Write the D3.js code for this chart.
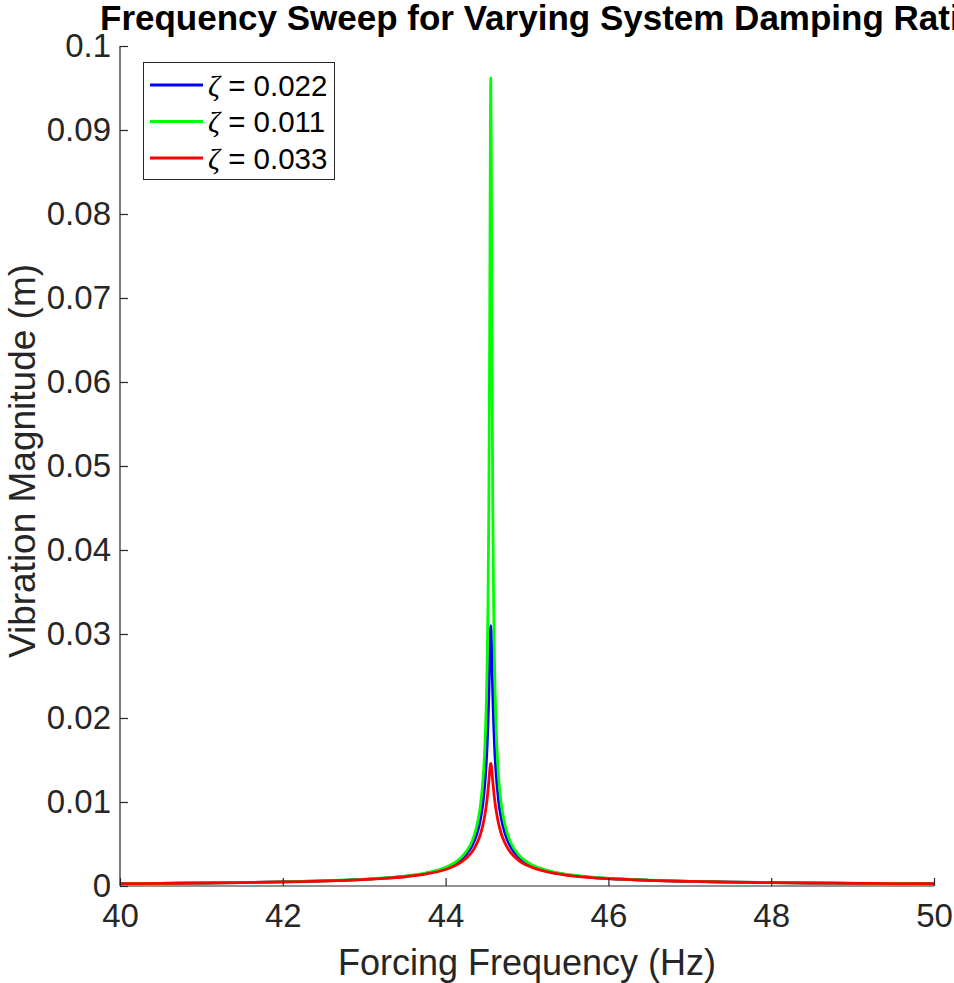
<!DOCTYPE html>
<html>
<head>
<meta charset="utf-8">
<script src="https://cdn.jsdelivr.net/npm/d3@7"></script>
<style>
  body { margin: 0; background: #ffffff; }
  text { font-family: "Liberation Sans", Arial, Helvetica, sans-serif; }
</style>
</head>
<body>
<svg id="chart" width="954" height="983"></svg>
<script>
// Forcing frequency samples (Hz), shared by all three sweeps
const freqHz = [
  40, 40.5, 41, 41.5, 42, 42.5, 43, 43.25, 43.5, 43.75,
  44, 44.1, 44.2, 44.3, 44.35, 44.4, 44.43, 44.46, 44.48, 44.5,
  44.51, 44.52, 44.53, 44.54, 44.545, 44.55, 44.555, 44.56, 44.565, 44.57,
  44.58, 44.59, 44.6, 44.62, 44.65, 44.68, 44.7, 44.75, 44.8, 44.9,
  45, 45.25, 45.5, 45.75, 46, 46.5, 47, 47.5, 48, 48.5,
  49, 49.5, 50
];

// Vibration magnitude (m), zeta = 0.022
const magZeta022 = [
  0.000281, 0.000315, 0.000356, 0.000411, 0.000489, 0.000602, 0.000788, 0.000934, 0.001146, 0.001486,
  0.002117, 0.002559, 0.003226, 0.004361, 0.005297, 0.006725, 0.008039, 0.01000, 0.01191, 0.01472,
  0.01665, 0.01914, 0.02237, 0.02638, 0.02850, 0.03028, 0.03100, 0.03031, 0.02861, 0.02657,
  0.02260, 0.01942, 0.01694, 0.01342, 0.01021, 0.008236, 0.007299, 0.005685, 0.004647, 0.003407,
  0.002698, 0.001778, 0.001332, 0.001069, 0.000894, 0.000679, 0.000550, 0.000464, 0.000404, 0.000358,
  0.000324, 0.000295, 0.000272
];

// Vibration magnitude (m), zeta = 0.011
const magZeta011 = [
  0.000283, 0.000317, 0.000359, 0.000415, 0.000494, 0.000610, 0.000802, 0.000953, 0.001175, 0.001536,
  0.00222, 0.00271, 0.00347, 0.00482, 0.00599, 0.00788, 0.00975, 0.01279, 0.01609, 0.02169,
  0.02616, 0.03288, 0.04371, 0.0622, 0.0754, 0.0893, 0.0962, 0.0896, 0.0762, 0.0633,
  0.0446, 0.0337, 0.02688, 0.01899, 0.01314, 0.01004, 0.00868, 0.00649, 0.00517, 0.00368,
  0.002866, 0.00185, 0.001372, 0.001094, 0.000912, 0.000689, 0.000557, 0.000469, 0.000408, 0.000361,
  0.000326, 0.000297, 0.000274
];

// Vibration magnitude (m), zeta = 0.033
const magZeta033 = [
  0.000278, 0.000311, 0.000352, 0.000405, 0.000480, 0.000589, 0.000766, 0.000903, 0.001100, 0.001410,
  0.001966, 0.002341, 0.002888, 0.003765, 0.004444, 0.005405, 0.006223, 0.007339, 0.008318, 0.00960,
  0.01038, 0.01130, 0.01235, 0.01349, 0.01402, 0.01444, 0.01460, 0.01444, 0.01405, 0.01354,
  0.01242, 0.01140, 0.01050, 0.00903, 0.007453, 0.006342, 0.005771, 0.004713, 0.003976, 0.003032,
  0.002457, 0.001671, 0.001271, 0.001029, 0.000866, 0.000662, 0.000540, 0.000457, 0.000399, 0.000354,
  0.000320, 0.000292, 0.000270
];

const seriesNames = ["0.022", "0.011", "0.033"];
const seriesColors = ["#0000ff", "#00ff00", "#ff0000"];
const seriesValues = [magZeta022, magZeta011, magZeta033];

const xTickValues = [40, 42, 44, 46, 48, 50];
const yTickValues = [0, 0.01, 0.02, 0.03, 0.04, 0.05, 0.06, 0.07, 0.08, 0.09, 0.1];
const yTickLabels = ["0", "0.01", "0.02", "0.03", "0.04", "0.05", "0.06", "0.07", "0.08", "0.09", "0.1"];

const titleText = "Frequency Sweep for Varying System Damping Ratio";
const xLabelText = "Forcing Frequency (Hz)";
const yLabelText = "Vibration Magnitude (m)";

// Layout
const W = 954, H = 983;
const plot = { left: 120, right: 934, top: 46, bottom: 886 };
const axisColor = "#262626";
const tickLen = 8;

const svg = d3.select("#chart");

const x = d3.scaleLinear().domain([40, 50]).range([plot.left, plot.right]);
const y = d3.scaleLinear().domain([0, 0.1]).range([plot.bottom, plot.top]);

// Curves
svg.append("clipPath").attr("id", "plotClip")
  .append("rect")
  .attr("x", plot.left).attr("y", plot.top - 2)
  .attr("width", plot.right - plot.left).attr("height", plot.bottom - plot.top + 2);

const line = d3.line()
  .x((d, i) => x(freqHz[i]))
  .y(d => y(d))
  .curve(d3.curveMonotoneX);

const curves = svg.append("g").attr("clip-path", "url(#plotClip)");
seriesValues.forEach((vals, k) => {
  curves.append("path")
    .attr("d", line(vals))
    .attr("fill", "none")
    .attr("stroke", seriesColors[k])
    .attr("stroke-width", 2.8)
    .attr("stroke-linejoin", "round");
});

// Axes (ticks pointing inward)
const xAxis = d3.axisBottom(x)
  .tickValues(xTickValues)
  .tickSize(-tickLen)
  .tickPadding(tickLen + 10)
  .tickFormat(d3.format("d"));

const yAxis = d3.axisLeft(y)
  .tickValues(yTickValues)
  .tickSize(-tickLen)
  .tickPadding(tickLen + 1)
  .tickFormat((d, i) => yTickLabels[i]);

const gx = svg.append("g")
  .attr("transform", `translate(0,${plot.bottom})`)
  .call(xAxis);
const gy = svg.append("g")
  .attr("transform", `translate(${plot.left},0)`)
  .call(yAxis);

[gx, gy].forEach(g => {
  g.select(".domain").attr("stroke", axisColor).attr("stroke-width", 1.2);
  g.selectAll(".tick line").attr("stroke", axisColor).attr("stroke-width", 1.2);
  g.selectAll(".tick text")
    .attr("fill", axisColor)
    .style("font-family", "'Liberation Sans', Arial, sans-serif")
    .style("font-size", "33px");
});
gx.select(".domain").attr("d", `M${plot.left},0H${plot.right}`);
gy.select(".domain").attr("d", `M0,${plot.bottom}V${plot.top}`);

// Title (runs past the right edge of the figure)
svg.append("text")
  .attr("x", 100)
  .attr("y", 30)
  .attr("text-anchor", "start")
  .style("font-size", "35px")
  .style("font-weight", "bold")
  .attr("fill", "#000000")
  .text(titleText);

// Axis labels
svg.append("text")
  .attr("x", (plot.left + plot.right) / 2)
  .attr("y", 975)
  .attr("text-anchor", "middle")
  .style("font-size", "36px")
  .attr("fill", axisColor)
  .text(xLabelText);

svg.append("text")
  .attr("transform", `translate(35,461) rotate(-90)`)
  .attr("text-anchor", "middle")
  .style("font-size", "37px")
  .attr("fill", axisColor)
  .text(yLabelText);

// Legend
const legend = svg.append("g");
legend.append("rect")
  .attr("x", 143.5).attr("y", 62.5)
  .attr("width", 191).attr("height", 117)
  .attr("fill", "#ffffff")
  .attr("stroke", axisColor)
  .attr("stroke-width", 1);

const rowY = [85, 121.5, 158];
seriesNames.forEach((name, k) => {
  legend.append("line")
    .attr("x1", 150).attr("x2", 203)
    .attr("y1", rowY[k]).attr("y2", rowY[k])
    .attr("stroke", seriesColors[k])
    .attr("stroke-width", 2.8);
  const t = legend.append("text")
    .attr("x", 208)
    .attr("y", rowY[k] + 10.5)
    .style("font-size", "29.5px")
    .attr("fill", "#000000");
  t.append("tspan")
    .style("font-family", "'Liberation Serif', 'DejaVu Serif', serif")
    .style("font-style", "italic")
    .text("ζ");
  t.append("tspan").text(" = " + name);
});
</script>
</body>
</html>
